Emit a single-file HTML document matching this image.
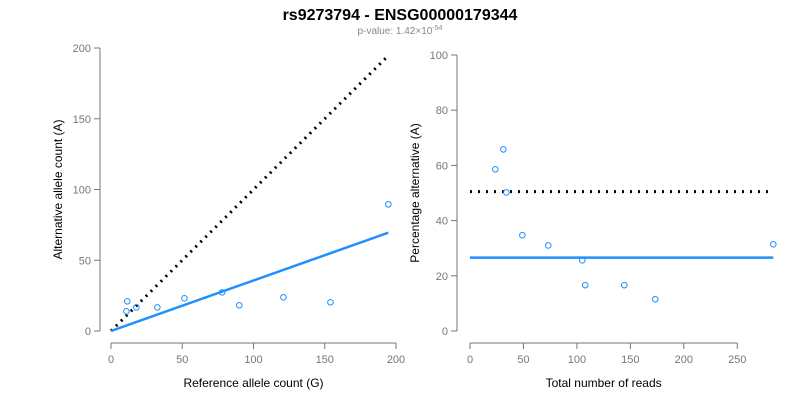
<!DOCTYPE html>
<html><head><meta charset="utf-8"><style>
body{margin:0;background:#fff;}
svg text{font-family:"Liberation Sans",Arial,sans-serif;}
</style></head><body>
<svg id="c" width="800" height="400" viewBox="0 0 800 400" xmlns="http://www.w3.org/2000/svg">
<text x="400" y="20" text-anchor="middle" font-size="16" font-weight="bold">rs9273794 - ENSG00000179344</text>
<text x="400" y="34" text-anchor="middle" font-size="10" fill="#888">p-value: 1.42×10<tspan dy="-4" font-size="7">-54</tspan></text>
<g id="L"></g>
<g id="R"></g>
</svg>
<script>
const leftRef=[11.4,10.8,17.8,32.5,51.5,78,90,121,154,194.6];
const leftAlt=[21,13.9,16.7,16.7,23.1,27.3,18.2,23.8,20.3,89.5];
const leftSlope=[0.357];
const leftXTicks=[0,50,100,150,200];
const leftYTicks=[0,50,100,150,200];
const rightTotal=[23.7,31.2,34,49,73.2,105,107.8,144.3,173.3,283.7];
const rightPct=[58.6,65.8,50.2,34.7,31,25.6,16.6,16.6,11.5,31.4];
const rightMean=[26.6];
const rightNull=[50.5];
const rightXTicks=[0,50,100,150,200,250];
const rightYTicks=[0,20,40,60,80,100];
const NS="http://www.w3.org/2000/svg";
function mk(p,t,a){const e=document.createElementNS(NS,t);for(const k in a)e.setAttribute(k,a[k]);p.appendChild(e);return e;}
function panel(g,xs,ys,xT,yT,xl,yl,axX,axY,xlab,ylab){
 const gr="#777";
 mk(g,'line',{x1:axY,x2:axY,y1:ys(yT[yT.length-1]),y2:ys(yT[0]),stroke:gr});
 yT.forEach(v=>{const l=mk(g,'line',{x1:axY-6,x2:axY,y1:ys(v),y2:ys(v),stroke:gr});
  const t=mk(g,'text',{x:axY-9,y:ys(v)+4,'text-anchor':'end','font-size':11,fill:gr});t.textContent=v;});
 mk(g,'line',{x1:xs(xT[0]),x2:xs(xT[xT.length-1]),y1:axX,y2:axX,stroke:gr});
 xT.forEach(v=>{const l=mk(g,'line',{x1:xs(v),x2:xs(v),y1:axX,y2:axX+6,stroke:gr});
  const t=mk(g,'text',{x:xs(v),y:axX+20,'text-anchor':'middle','font-size':11,fill:gr});t.textContent=v;});
 const a=mk(g,'text',{x:(xs(xT[0])+xs(xT[xT.length-1]))/2,y:axX+44,'text-anchor':'middle','font-size':12});a.textContent=xlab;
 const cy=(ys(yT[0])+ys(yT[yT.length-1]))/2,cx=axY-38;
 const b=mk(g,'text',{x:cx,y:cy,'text-anchor':'middle','font-size':12,transform:`rotate(-90 ${cx} ${cy})`});b.textContent=ylab;
}
// left
const L=document.getElementById('L');
const lx=v=>111+v*1.425, ly=v=>331-v*1.415;
panel(L,lx,ly,leftXTicks,leftYTicks,0,0,343,100,'Reference allele count (G)','Alternative allele count (A)');
const lmax=Math.max(...leftRef);
let e=mk(L,'line',{x1:lx(0),y1:ly(0),x2:lx(lmax),y2:ly(lmax),stroke:'#000','stroke-width':3,'stroke-dasharray':'2 5'});

e=mk(L,'line',{x1:lx(0),y1:ly(0),x2:lx(lmax),y2:ly(lmax*leftSlope[0]),stroke:'#1e90ff','stroke-width':2.5});

leftRef.forEach((v,i)=>{const c=mk(L,'circle',{cx:lx(v),cy:ly(leftAlt[i]),r:2.8,fill:'none',stroke:'#1e90ff','stroke-width':1});
 });
// right
const R=document.getElementById('R');
const rx=v=>470+v*1.069, ry=v=>331-v*2.76;
panel(R,rx,ry,rightXTicks,rightYTicks,0,0,343,457,'Total number of reads','Percentage alternative (A)');
const rmax=Math.max(...rightTotal);
e=mk(R,'line',{x1:rx(0),y1:ry(rightNull[0]),x2:rx(rmax),y2:ry(rightNull[0]),stroke:'#000','stroke-width':3,'stroke-dasharray':'2 6'});

e=mk(R,'line',{x1:rx(0),y1:ry(rightMean[0]),x2:rx(rmax),y2:ry(rightMean[0]),stroke:'#1e90ff','stroke-width':2.5});

rightTotal.forEach((v,i)=>{const c=mk(R,'circle',{cx:rx(v),cy:ry(rightPct[i]),r:2.8,fill:'none',stroke:'#1e90ff','stroke-width':1});
 });
</script>
</body></html>
